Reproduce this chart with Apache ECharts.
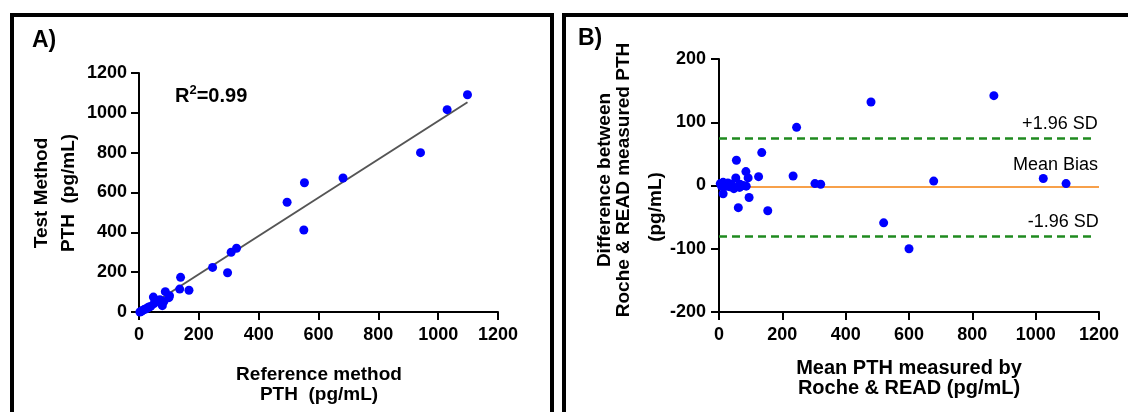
<!DOCTYPE html>
<html><head><meta charset="utf-8">
<script src="https://cdn.jsdelivr.net/npm/echarts@6/dist/echarts.min.js"></script>
<style>html,body{margin:0;padding:0;background:#fff}#c{width:1128px;height:412px}</style>
</head><body><div id="c"></div>
<script>
// ---- Panel A data: reference vs test method (pg/mL)
const refMethod  = [1098,1030,941,682,553,495,551,326,308,246,296,139,136,167,88,102,100,48,70,61,78,50,39,28,17,8,3,22,33,56,83,11];
const testMethod = [1091,1016,800,673,649,551,412,320,300,224,197,174,115,109,102,82,72,75,62,54,32,42,28,20,12,3,0,15,25,59,53,7];
const fitLineX = [3,1098];
const fitLineY = [0,1053];
const ticksA = [0,200,400,600,800,1000,1200];
const r2Text = '0.99';

// ---- Panel B data: Bland-Altman (mean vs difference)
const meanPTH = [868,480,245,135,55,85,92,53,125,234,303,321,678,1024,1096,95,61,154,520,600,13,13,4,28,39,47,65,77,86,23,8,34,44,66];
const diffPTH = [142,132,92,52,40,22,12,12,14,15,3,2,7,11,3,-19,-35,-40,-59,-100,-13,5,3,4,2,-5,-3,0,-1,-1,-1,-2,-2,2];
const meanBias = -2;
const upperLoA = 75;
const lowerLoA = -80;
const biasRange = [0,1200];
const loaRange = [0,1180];
const ticksBx = [0,200,400,600,800,1000,1200];
const ticksBy = [-200,-100,0,100,200];
const loaLabels = ['+1.96 SD','Mean Bias','-1.96 SD'];

const F = '"Liberation Sans", Arial, sans-serif';
const chart = echarts.init(document.getElementById('c'), null, {renderer:'canvas'});

function axisCommon(ticks){
  return {
    type:'value', min:ticks[0], max:ticks[ticks.length-1], interval:ticks[1]-ticks[0],
    axisLine:{show:true,onZero:false,lineStyle:{color:'#000',width:2}},
    axisTick:{show:true,length:8,lineStyle:{color:'#000',width:2}},
    splitLine:{show:false},
    axisLabel:{color:'#000',fontSize:18,fontWeight:'bold',fontFamily:F,
      formatter:function(v){ return ticks.indexOf(v) >= 0 ? String(ticks[ticks.indexOf(v)]) : ''; }}
  };
}
const xA = axisCommon(ticksA); xA.gridIndex=0; xA.axisLabel.margin=14;
const yA = axisCommon(ticksA); yA.gridIndex=0; yA.axisLabel.margin=12;
const xB = axisCommon(ticksBx); xB.gridIndex=1; xB.axisLabel.margin=14;
const yB = axisCommon(ticksBy); yB.gridIndex=1; yB.axisLabel.margin=13;

function mlLine(y, range, color, type, label, dist){
  return [
    {coord:[range[0],y], lineStyle:{color:color,width:type==='solid'?2:2.5,type:type},
     label:{show:true,formatter:label,position:'insideEndTop',distance:dist,color:'#000',fontSize:18,fontFamily:F}},
    {coord:[range[1],y]}
  ];
}

const option = {
  animation:false,
  backgroundColor:'#fff',
  grid:[
    {left:139,top:73,width:359,height:239},
    {left:719,top:59,width:380,height:253}
  ],
  xAxis:[xA,xB],
  yAxis:[yA,yB],
  series:[
    {type:'line',xAxisIndex:0,yAxisIndex:0,data:fitLineX.map((x,i)=>[x,fitLineY[i]]),
     symbol:'none',lineStyle:{color:'#555',width:2},z:1,silent:true},
    {type:'scatter',xAxisIndex:0,yAxisIndex:0,data:refMethod.map((x,i)=>[x,testMethod[i]]),
     symbolSize:9,itemStyle:{color:'#0000ff',opacity:1},z:3},
    {type:'scatter',xAxisIndex:1,yAxisIndex:1,data:meanPTH.map((x,i)=>[x,diffPTH[i]]),
     symbolSize:9,itemStyle:{color:'#0000ff',opacity:1},z:3,
     markLine:{symbol:'none',silent:true,animation:false,z:1,
       data:[
         mlLine(upperLoA,loaRange,'#1f8a1f',[8,5],loaLabels[0],[-5,5]),
         mlLine(meanBias,biasRange,'#f7a04a','solid',loaLabels[1],[1,13]),
         mlLine(lowerLoA,loaRange,'#1f8a1f',[8,5],loaLabels[2],[-6,5])
       ]}}
  ],
  graphic:[
    {type:'rect',shape:{x:12,y:15,width:540,height:430},style:{fill:'none',stroke:'#000',lineWidth:4},silent:true},
    {type:'rect',shape:{x:564,y:15,width:600,height:430},style:{fill:'none',stroke:'#000',lineWidth:4},silent:true},
    {type:'text',x:32,y:41,style:{text:'A)',font:'bold 23px '+F,fill:'#000',verticalAlign:'middle'}},
    {type:'text',x:578,y:39,style:{text:'B)',font:'bold 23px '+F,fill:'#000',verticalAlign:'middle'}},
    {type:'text',x:175,y:96,style:{text:'{n|R}{s|2}{n|=' + r2Text + '}',verticalAlign:'middle',
      rich:{n:{fontSize:20,fontWeight:'bold',fontFamily:F,fill:'#000',lineHeight:24},
            s:{fontSize:13,fontWeight:'bold',fontFamily:F,fill:'#000',lineHeight:14,verticalAlign:'top'}}}},
    {type:'text',x:319,y:385,style:{text:'Reference method\nPTH  (pg/mL)',font:'bold 19px '+F,fill:'#000',align:'center',verticalAlign:'middle',lineHeight:20}},
    {type:'text',x:909,y:378,style:{text:'Mean PTH measured by\nRoche & READ (pg/mL)',font:'bold 20px '+F,fill:'#000',align:'center',verticalAlign:'middle',lineHeight:20}},
    {type:'text',x:42,y:193,rotation:Math.PI/2,style:{text:'Test Method',font:'bold 19px '+F,fill:'#000',align:'center',verticalAlign:'middle'}},
    {type:'text',x:69,y:193,rotation:Math.PI/2,style:{text:'PTH  (pg/mL)',font:'bold 19px '+F,fill:'#000',align:'center',verticalAlign:'middle'}},
    {type:'text',x:614,y:180,rotation:Math.PI/2,style:{text:'Difference between\nRoche & READ measured PTH',font:'bold 19px '+F,fill:'#000',align:'center',verticalAlign:'middle',lineHeight:19}},
    {type:'text',x:656,y:207,rotation:Math.PI/2,style:{text:'(pg/mL)',font:'bold 19px '+F,fill:'#000',align:'center',verticalAlign:'middle'}}
  ]
};
chart.setOption(option);
</script></body></html>
